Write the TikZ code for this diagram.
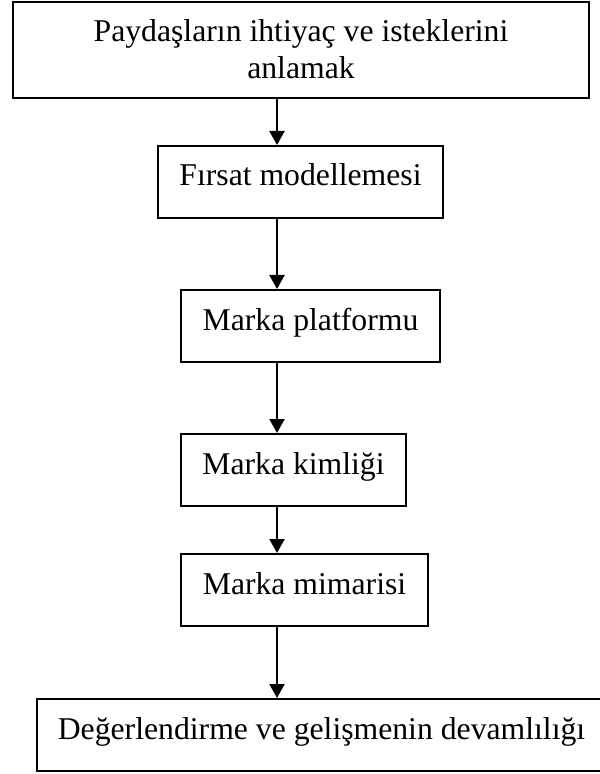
\documentclass[tikz,border=0pt]{standalone}
\usepackage{fontspec}
\setmainfont{Liberation Serif}
\usetikzlibrary{arrows.meta}
\begin{document}
\begin{tikzpicture}[x=0.5pt,y=-0.5pt,
  box/.style={draw, line width=1pt, rectangle, anchor=north west, inner xsep=0pt, inner ysep=5pt,
    minimum height=36pt, text height=15pt, text depth=11pt,
    font=\fontsize{15.85}{18.5}\selectfont},
  flow/.style={-{Triangle[length=7pt,width=7.5pt]}, line width=1pt}]
\useasboundingbox (0,0) rectangle (599,774);
\node[box, minimum width=288pt, minimum height=48pt, text depth=23pt] (b1) at (12,1)
  {\parbox[t]{280pt}{\centering Paydaşların ihtiyaç ve isteklerini\\anlamak}};
\node[box, minimum width=142.5pt] (b2) at (157,145) {Fırsat modellemesi};
\node[box, minimum width=129.5pt] (b3) at (180,289) {Marka platformu};
\node[box, minimum width=112.5pt] (b4) at (180,433) {Marka kimliği};
\node[box, minimum width=123.5pt] (b5) at (180,553) {Marka mimarisi};
\node[box, minimum width=284.5pt] (b6) at (36,698) {Değerlendirme ve gelişmenin devamlılığı};
\coordinate (ax) at (277,0);
\draw[flow] (b1.south -| ax) -- (b2.north -| ax);
\draw[flow] (b2.south -| ax) -- (b3.north -| ax);
\draw[flow] (b3.south -| ax) -- (b4.north -| ax);
\draw[flow] (b4.south -| ax) -- (b5.north -| ax);
\draw[flow] (b5.south -| ax) -- (b6.north -| ax);
\end{tikzpicture}
\end{document}
